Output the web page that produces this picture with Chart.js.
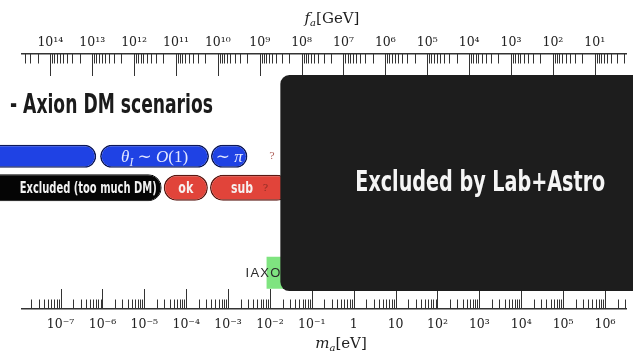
<!DOCTYPE html>
<html>
<head>
<meta charset="utf-8">
<script src="https://cdn.jsdelivr.net/npm/chart.js@4/dist/chart.umd.min.js"></script>
<style>
  html, body { margin: 0; padding: 0; background: #ffffff; }
  #wrap { width: 633px; height: 356px; position: relative; overflow: hidden; }
</style>
</head>
<body>
<div id="wrap"><canvas id="axionChart" width="633" height="356"></canvas></div>
<script>
// f_a * m_a ≈ 5.7e6 GeV·eV (QCD axion)
const FA_TIMES_MA = 5.7e6;

// axion mass range shown (eV)
const massRange = [1.2e-8, 3.3e6];

// tick labels
const massTickExp = [-7, -6, -5, -4, -3, -2, -1, 0, 1, 2, 3, 4, 5, 6];
const massTickLabels = ['10⁻⁷', '10⁻⁶', '10⁻⁵', '10⁻⁴', '10⁻³', '10⁻²', '10⁻¹', '1', '10', '10²', '10³', '10⁴', '10⁵', '10⁶'];
const faTickExp = [14, 13, 12, 11, 10, 9, 8, 7, 6, 5, 4, 3, 2, 1];
const faTickLabels = ['10¹⁴', '10¹³', '10¹²', '10¹¹', '10¹⁰', '10⁹', '10⁸', '10⁷', '10⁶', '10⁵', '10⁴', '10³', '10²', '10¹'];

// rows of the diagram (row index along the hidden vertical axis)
const rowNames = ['pre-inflation', 'post-inflation', 'IAXO'];
const rowLevel = [0, 1, 3.7];
const labAstroLevel = 0.85;

// pre-inflation scenario: initial misalignment angle
const preInflationSpans = [[1.2e-9, 7.1e-7], [8.8e-7, 3.5e-4], [3.9e-4, 2.9e-3]];
const preInflationText = ['', 'θ_I ∼ O(1)', '∼ π'];

// post-inflation scenario
const postExcludedSpans = [[1.2e-9, 2.6e-5]];
const postExcludedText = ['Excluded (too much DM)'];
const postAllowedSpans = [[2.9e-5, 3.3e-4], [3.7e-4, 3.0e-2]];
const postAllowedText = ['ok', 'sub'];

// open questions at the upper end of each scenario row
const openQuestionAt = [1.12e-2, 7.8e-3];
const openQuestionRow = [0, 1];

// helioscope
const iaxoSpans = [[8.3e-3, 4.5e-2]];
const iaxoText = ['IAXO'];

// lab + astrophysics exclusion
const labAstroSpans = [[1.77e-2, 4.5e7]];
const labAstroText = ['Excluded by Lab+Astro'];

const heading = '- Axion DM scenarios';

const toBars = (spans, level) => spans.map(s => ({ x: s, y: level }));

function buildLogTicks(scale) {
  const ticks = [];
  const lo = Math.floor(Math.log10(scale.min));
  const hi = Math.ceil(Math.log10(scale.max));
  for (let e = lo; e <= hi; e++) {
    for (let s = 1; s <= 9; s++) {
      const v = s * Math.pow(10, e);
      if (v >= scale.min && v <= scale.max) ticks.push({ value: v, major: s === 1 });
    }
  }
  scale.ticks = ticks;
}

function isDecade(value) {
  const e = Math.round(Math.log10(value));
  return Math.abs(value / Math.pow(10, e) - 1) < 1e-9;
}

function decadeLabel(value, exps, labels) {
  if (!isDecade(value)) return '';
  const i = exps.indexOf(Math.round(Math.log10(value)));
  return i < 0 ? '' : labels[i];
}

// draws a short math expression: letters italic, "_x" as subscript
function drawMath(ctx, str, cx, baseY, size, family, color) {
  const runs = [];
  for (let i = 0; i < str.length; i++) {
    let ch = str[i];
    let sub = false;
    if (ch === '_' && i + 1 < str.length) { sub = true; ch = str[++i]; }
    const italic = /[A-Za-zα-ωθπ]/.test(ch);
    const sz = sub ? size * 0.68 : size;
    runs.push({ t: ch, font: (italic ? 'italic ' : '') + sz + 'px ' + family, dy: sub ? size * 0.22 : 0 });
  }
  let total = 0;
  runs.forEach(r => { ctx.font = r.font; r.w = ctx.measureText(r.t).width; total += r.w; });
  let x = cx - total / 2;
  ctx.fillStyle = color;
  ctx.textAlign = 'left';
  ctx.textBaseline = 'alphabetic';
  runs.forEach(r => { ctx.font = r.font; ctx.fillText(r.t, x, baseY + r.dy); x += r.w; });
}

const pick = (v, i) => Array.isArray(v) ? v[i] : v;

const NARROW = "'Liberation Sans Narrow', 'DejaVu Sans Condensed', 'Liberation Sans', sans-serif";

const diagramText = {
  id: 'diagramText',
  beforeDatasetsDraw(chart) {
    const ctx = chart.ctx;
    const area = chart.chartArea;
    ctx.save();
    ctx.strokeStyle = '#333333';
    ctx.lineWidth = 1;
    [['x', area.bottom, -1], ['xTop', area.top, 1]].forEach(([id, y0, dir]) => {
      const scale = chart.scales[id];
      scale.ticks.forEach(t => {
        const px = Math.round(scale.getPixelForValue(t.value)) + 0.5;
        if (px < area.left || px > area.right) return;
        const len = isDecade(t.value) ? (id === 'x' ? 20 : 22) : 9.5;
        ctx.beginPath();
        ctx.moveTo(px, y0);
        ctx.lineTo(px, y0 + dir * len);
        ctx.stroke();
      });
    });
    ctx.restore();
  },
  afterDatasetDraw(chart, args) {
    const ds = chart.data.datasets[args.index];
    if (!ds.segmentText) return;
    const ctx = chart.ctx;
    ctx.save();
    args.meta.data.forEach((el, i) => {
      const text = ds.segmentText[i];
      if (!text) return;
      const p = el.getProps(['x', 'y', 'base'], true);
      const lo = Math.min(p.x, p.base), hi = Math.max(p.x, p.base);
      const st = ds.textStyle;
      const dx = pick(st.dx, i) || 0;
      if (st.math) {
        drawMath(ctx, text, (lo + hi) / 2 + dx, p.y + st.dy, st.size, st.family, st.color);
        return;
      }
      ctx.font = st.font;
      ctx.fillStyle = st.color;
      ctx.textBaseline = 'alphabetic';
      let x;
      if (st.align === 'right') { ctx.textAlign = 'right'; x = hi + dx; }
      else if (st.align === 'left') { ctx.textAlign = 'left'; x = lo + dx; }
      else { ctx.textAlign = 'center'; x = (lo + hi) / 2 + dx; }
      if (st.letterSpacing) ctx.letterSpacing = st.letterSpacing;
      const maxW = pick(st.maxWidth, i);
      if (maxW) ctx.fillText(text, x, p.y + st.dy, maxW); else ctx.fillText(text, x, p.y + st.dy);
      ctx.letterSpacing = '0px';
    });
    ctx.restore();
  },
  afterDraw(chart) {
    const ctx = chart.ctx;
    const xs = chart.scales.x;
    const ys = chart.scales.y;
    ctx.save();
    // question marks at the open upper ends of the scenario rows
    ctx.font = '10px "DejaVu Serif", serif';
    ctx.textAlign = 'center';
    ctx.textBaseline = 'alphabetic';
    openQuestionAt.forEach((m, i) => {
      ctx.fillStyle = openQuestionRow[i] === 0 ? '#b0625c' : '#8e2d25';
      ctx.fillText('?', xs.getPixelForValue(m), ys.getPixelForValue(rowLevel[openQuestionRow[i]]) + 3);
    });

    // section heading
    ctx.font = 'bold 26px ' + NARROW;
    ctx.fillStyle = '#1b1b1b';
    ctx.textAlign = 'left';
    ctx.fillText(heading, 10, 112.5, 203);

    // axis titles
    const titles = [
      { parts: [['f', 'italic 15px "DejaVu Serif", serif', 0], ['a', 'italic 10px "DejaVu Serif", serif', 3], ['[GeV]', '15px "DejaVu Serif", serif', 0]], cx: 332, y: 23 },
      { parts: [['m', 'italic 15px "DejaVu Serif", serif', 0], ['a', 'italic 10px "DejaVu Serif", serif', 3], ['[eV]', '15px "DejaVu Serif", serif', 0]], cx: 341, y: 348 }
    ];
    ctx.fillStyle = '#1e1e1e';
    titles.forEach(tt => {
      let w = 0;
      tt.parts.forEach(p => { ctx.font = p[1]; w += ctx.measureText(p[0]).width; });
      let x = tt.cx - w / 2;
      tt.parts.forEach(p => { ctx.font = p[1]; ctx.fillText(p[0], x, tt.y + p[2]); x += ctx.measureText(p[0]).width; });
    });
    ctx.restore();
  }
};

const barCommon = { grouped: false, borderSkipped: false, clip: false, inflateAmount: 0 };

new Chart(document.getElementById('axionChart'), {
  type: 'bar',
  data: {
    datasets: [
      Object.assign({
        label: labAstroText[0],
        data: toBars(labAstroSpans, labAstroLevel),
        backgroundColor: '#1d1d1d', borderColor: '#1d1d1d', borderWidth: 0,
        borderRadius: 9, barThickness: 216, order: -1,
        segmentText: labAstroText,
        textStyle: { font: 'bold 29px ' + NARROW, color: '#f5f5f5', align: 'center', dx: 3, dy: 7.5, maxWidth: 250 }
      }, barCommon),
      Object.assign({
        label: rowNames[0],
        data: toBars(preInflationSpans, rowLevel[0]),
        backgroundColor: '#1f42e4', borderColor: '#0d1858', borderWidth: 1.5,
        borderRadius: 14, barThickness: 23,
        segmentText: preInflationText,
        textStyle: { math: true, size: 17, family: '"Liberation Serif", "DejaVu Serif", serif', color: '#e4e8ff', dy: 5.5 }
      }, barCommon),
      Object.assign({
        label: rowNames[1] + ' excluded',
        data: toBars(postExcludedSpans, rowLevel[1]),
        backgroundColor: '#050505', borderColor: '#000000', borderWidth: 1,
        borderRadius: 14, barThickness: 27,
        segmentText: postExcludedText,
        textStyle: { font: 'bold 16px ' + NARROW, color: '#f2f2f2', align: 'right', dx: -5, dy: 5, maxWidth: 137 }
      }, barCommon),
      Object.assign({
        label: rowNames[1] + ' allowed',
        data: toBars(postAllowedSpans, rowLevel[1]),
        backgroundColor: '#e1443a', borderColor: '#5a1812', borderWidth: 1.5,
        borderRadius: 14, barThickness: 26,
        segmentText: postAllowedText,
        textStyle: { font: 'bold 15px ' + NARROW, color: '#f7f0ef', align: 'center', dy: 5, dx: [0, -8], maxWidth: [15, 22] }
      }, barCommon),
      Object.assign({
        label: rowNames[2],
        data: toBars(iaxoSpans, rowLevel[2]),
        backgroundColor: '#7fe480', borderColor: '#7fe480', borderWidth: 0,
        borderRadius: 0, barThickness: 32,
        segmentText: iaxoText,
        textStyle: { font: '13px "Liberation Sans", Arial, sans-serif', color: '#2a2a2a', align: 'left', dx: -21, dy: 4, letterSpacing: '1.2px' }
      }, barCommon)
    ]
  },
  options: {
    indexAxis: 'y',
    responsive: false,
    maintainAspectRatio: false,
    devicePixelRatio: 1,
    animation: false,
    layout: { padding: { left: 22, right: 0, top: 0, bottom: 0 } },
    plugins: { legend: { display: false }, tooltip: { enabled: false } },
    scales: {
      x: {
        type: 'logarithmic',
        position: 'bottom',
        min: massRange[0],
        max: massRange[1],
        afterBuildTicks: buildLogTicks,
        afterFit: s => { s.height = 47; },
        grid: { display: false, drawTicks: false },
        border: { display: true, color: '#333333', width: 1.5 },
        ticks: {
          autoSkip: false, maxRotation: 0, minRotation: 0, padding: 8,
          color: '#222222', font: { family: '"DejaVu Serif", serif', size: 12.5 },
          callback: v => decadeLabel(v, massTickExp, massTickLabels)
        }
      },
      xTop: {
        type: 'logarithmic',
        position: 'top',
        reverse: true,
        min: FA_TIMES_MA / massRange[1],
        max: FA_TIMES_MA / massRange[0],
        afterBuildTicks: buildLogTicks,
        afterFit: s => { s.height = 54; },
        grid: { display: false, drawTicks: false },
        border: { display: true, color: '#333333', width: 1.5 },
        ticks: {
          autoSkip: false, maxRotation: 0, minRotation: 0, padding: 4,
          color: '#222222', font: { family: '"DejaVu Serif", serif', size: 12.5 },
          callback: v => decadeLabel(v, faTickExp, faTickLabels)
        }
      },
      y: {
        type: 'linear',
        display: false,
        reverse: true,
        offset: false,
        min: -3.25,
        max: 4.85
      }
    }
  },
  plugins: [diagramText]
});
</script>
</body>
</html>
